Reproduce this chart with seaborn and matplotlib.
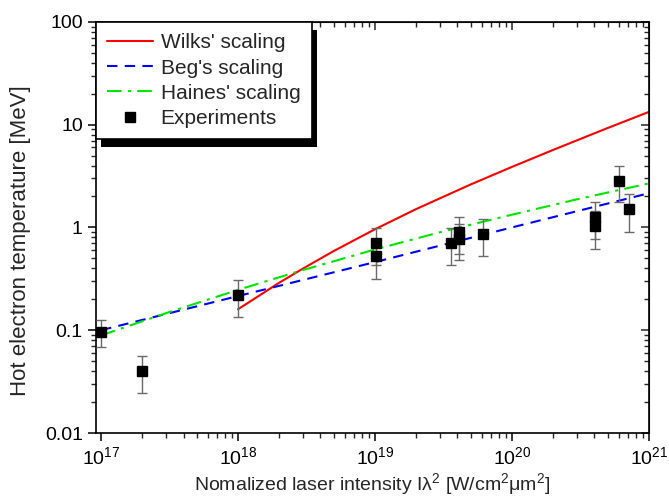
import numpy as np
import pandas as pd
import matplotlib
matplotlib.use("Agg")
import matplotlib.pyplot as plt
import matplotlib.ticker as ticker
from matplotlib.patches import Rectangle
from matplotlib.transforms import IdentityTransform
import seaborn as sns

sns.set_style("white")
plt.rcParams['font.family'] = ['Liberation Sans', 'DejaVu Sans']
plt.rcParams['mathtext.fontset'] = 'custom'
plt.rcParams['mathtext.rm'] = 'Liberation Sans'
plt.rcParams['mathtext.it'] = 'Liberation Sans:italic'

# scaling curves
wilks_x = [1e18, 2e18, 3e18, 5e18, 1e19, 2e19, 5e19, 1e20, 2e20, 5e20, 1e21]
wilks_t = [0.16, 0.29, 0.40, 0.59, 0.96, 1.51, 2.62, 3.88, 5.68, 9.27, 13.3]

beg_x = [1e17, 1e18, 1e19, 1e20, 1e21]
beg_t = [0.10, 0.215, 0.46, 1.0, 2.15]

haines_x = [1e17, 3e17, 1e18, 3e18, 1e19, 3e19, 1e20, 3e20, 1e21]
haines_t = [0.089, 0.147, 0.247, 0.386, 0.61, 0.90, 1.33, 1.88, 2.68]

# experimental points
exp_x = [1e17, 2e17, 1e18, 1.02e19, 1.02e19, 3.6e19, 4.1e19, 4.1e19, 6.1e19,
         4.07e20, 4.07e20, 6.0e20, 7.1e20]
exp_t = [0.097, 0.040, 0.22, 0.71, 0.525, 0.71, 0.90, 0.78, 0.865,
         1.27, 1.03, 2.85, 1.51]
exp_err = [0.028, 0.0155, 0.085, 0.28, 0.21, 0.28, 0.35, 0.30, 0.34,
           0.50, 0.42, 1.10, 0.60]

fig, ax = plt.subplots(figsize=(6.69, 4.96), dpi=100)
fig.subplots_adjust(left=0.1435, right=0.970, bottom=0.127, top=0.956)

sns.lineplot(x=wilks_x, y=wilks_t, ax=ax, color='#ff0000', lw=1.5,
             label="Wilks' scaling")
sns.lineplot(x=beg_x, y=beg_t, ax=ax, color='#0000ff', lw=1.5,
             linestyle=(0, (5, 3.5)), label="Beg's scaling")
sns.lineplot(x=haines_x, y=haines_t, ax=ax, color='#00e600', lw=1.5,
             linestyle=(0, (7, 3, 1.5, 3)), label="Haines' scaling")

ax.errorbar(exp_x, exp_t, yerr=exp_err, fmt='none', ecolor='#6a6a6a',
            elinewidth=1, capsize=3.5, capthick=1, zorder=3)
ax.plot(exp_x, exp_t, 's', color='black', ms=7.5, ls='none',
        label='Experiments', zorder=4)

ax.set_xscale('log')
ax.set_yscale('log')
ax.set_xlim(10 ** 16.963, 1e21)
ax.set_ylim(0.01, 100)
ax.yaxis.set_major_formatter(ticker.FuncFormatter(lambda v, p: f'{v:g}'))

ax.set_xlabel('Nomalized laser intensity Iλ$^2$ [W/cm$^2$μm$^2$]', fontsize=14, labelpad=2)
ax.set_ylabel('Hot electron temperature [MeV]', fontsize=16)
ax.yaxis.set_label_coords(-0.118, 0.467)

for s in ax.spines.values():
    s.set_color('black')
    s.set_linewidth(1.2)

ax.tick_params(axis='both', which='major', direction='out', length=6, width=1.1,
               labelsize=14, bottom=True, left=True, top=False, right=False, colors='black')
ax.tick_params(axis='both', which='minor', direction='out', length=3.5, width=1,
               bottom=True, left=True, top=False, right=False)

# mirrored ticks pointing into the plot on top and right
top = ax.secondary_xaxis('top')
top.tick_params(which='major', direction='in', length=6, width=1.1, labeltop=False)
top.tick_params(which='minor', direction='in', length=3.5, width=1)
right = ax.secondary_yaxis('right')
right.tick_params(which='major', direction='in', length=6, width=1.1, labelright=False)
right.tick_params(which='minor', direction='in', length=3.5, width=1)

leg = ax.legend(loc='upper left', bbox_to_anchor=(0.0, 1.0), fontsize=15,
                frameon=True, fancybox=False, edgecolor='black', framealpha=1,
                handlelength=2.2, handletextpad=0.35, labelspacing=0.3,
                borderpad=0.55, borderaxespad=0.0)
leg.get_frame().set_linewidth(1.2)
leg.set_zorder(6)

# black offset shadow behind the legend box
fig.canvas.draw()
bb = leg.get_window_extent()
ax.add_patch(Rectangle((bb.x0 + 5, bb.y0 - 8), bb.width, bb.height,
                       transform=IdentityTransform(), facecolor='black',
                       edgecolor='none', clip_on=False, zorder=5.5))

fig.savefig('out.png', dpi=100)
